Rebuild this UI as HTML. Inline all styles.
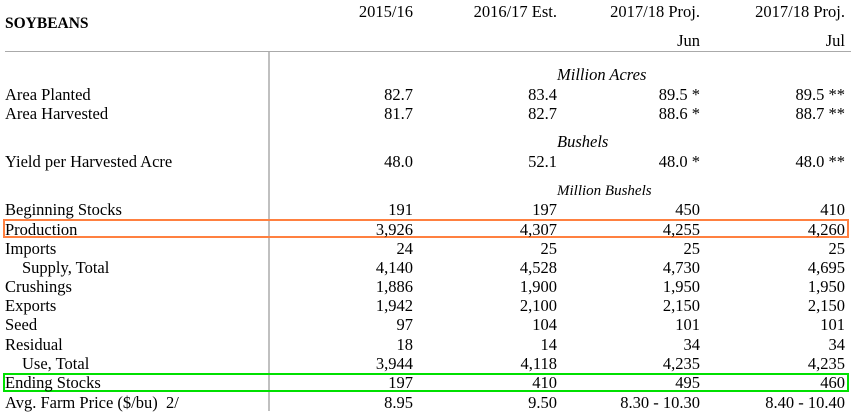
<!DOCTYPE html>
<html><head><meta charset="utf-8"><style>
body{margin:0;width:851px;height:411px;background:#fff;overflow:hidden;position:relative;font-family:"Liberation Serif",serif;font-size:16.5px;color:#000}
.t{position:absolute;line-height:19px;white-space:nowrap;margin-top:2px}
.l{left:5px}.i{left:22px}
.c1,.c2,.c3,.c4{text-align:right;width:200px}
.c1{left:213px}.c2{left:357px}.c3{left:500px}.c4{left:645px}
.it{font-style:italic;left:557px}
</style></head><body>
<div style="position:absolute;left:5px;top:51px;width:846px;height:1px;background:#aaa"></div>
<div style="position:absolute;left:268px;top:52px;width:2px;height:359px;background:#c0c0c0"></div>
<div style="position:absolute;left:3px;top:219px;width:842px;height:15px;border:2px solid #ff8040"></div>
<div style="position:absolute;left:3px;top:373px;width:842px;height:15px;border:2px solid #00e000"></div>

<div class="t l" style="top:12px;font-weight:bold;font-size:15.5px">SOYBEANS</div>
<div class="t c1" style="top:0px">2015/16</div>
<div class="t c2" style="top:0px">2016/17 Est.</div>
<div class="t c3" style="top:0px">2017/18 Proj.</div>
<div class="t c4" style="top:0px">2017/18 Proj.</div>
<div class="t c3" style="top:29px">Jun</div>
<div class="t c4" style="top:29px">Jul</div>

<div class="t it" style="top:63px">Million Acres</div>
<div class="t l" style="top:83px">Area Planted</div><div class="t c1" style="top:83px">82.7</div><div class="t c2" style="top:83px">83.4</div><div class="t c3" style="top:83px">89.5 *</div><div class="t c4" style="top:83px">89.5 **</div>
<div class="t l" style="top:102px">Area Harvested</div><div class="t c1" style="top:102px">81.7</div><div class="t c2" style="top:102px">82.7</div><div class="t c3" style="top:102px">88.6 *</div><div class="t c4" style="top:102px">88.7 **</div>
<div class="t it" style="top:130px">Bushels</div>
<div class="t l" style="top:150px">Yield per Harvested Acre</div><div class="t c1" style="top:150px">48.0</div><div class="t c2" style="top:150px">52.1</div><div class="t c3" style="top:150px">48.0 *</div><div class="t c4" style="top:150px">48.0 **</div>
<div class="t it" style="top:180px;font-size:15px">Million Bushels</div>

<div class="t l" style="top:198px">Beginning Stocks</div><div class="t c1" style="top:198px">191</div><div class="t c2" style="top:198px">197</div><div class="t c3" style="top:198px">450</div><div class="t c4" style="top:198px">410</div>
<div class="t l" style="top:218px">Production</div><div class="t c1" style="top:218px">3,926</div><div class="t c2" style="top:218px">4,307</div><div class="t c3" style="top:218px">4,255</div><div class="t c4" style="top:218px">4,260</div>
<div class="t l" style="top:237px">Imports</div><div class="t c1" style="top:237px">24</div><div class="t c2" style="top:237px">25</div><div class="t c3" style="top:237px">25</div><div class="t c4" style="top:237px">25</div>
<div class="t i" style="top:256px">Supply, Total</div><div class="t c1" style="top:256px">4,140</div><div class="t c2" style="top:256px">4,528</div><div class="t c3" style="top:256px">4,730</div><div class="t c4" style="top:256px">4,695</div>
<div class="t l" style="top:275px">Crushings</div><div class="t c1" style="top:275px">1,886</div><div class="t c2" style="top:275px">1,900</div><div class="t c3" style="top:275px">1,950</div><div class="t c4" style="top:275px">1,950</div>
<div class="t l" style="top:294px">Exports</div><div class="t c1" style="top:294px">1,942</div><div class="t c2" style="top:294px">2,100</div><div class="t c3" style="top:294px">2,150</div><div class="t c4" style="top:294px">2,150</div>
<div class="t l" style="top:313px">Seed</div><div class="t c1" style="top:313px">97</div><div class="t c2" style="top:313px">104</div><div class="t c3" style="top:313px">101</div><div class="t c4" style="top:313px">101</div>
<div class="t l" style="top:333px">Residual</div><div class="t c1" style="top:333px">18</div><div class="t c2" style="top:333px">14</div><div class="t c3" style="top:333px">34</div><div class="t c4" style="top:333px">34</div>
<div class="t i" style="top:352px">Use, Total</div><div class="t c1" style="top:352px">3,944</div><div class="t c2" style="top:352px">4,118</div><div class="t c3" style="top:352px">4,235</div><div class="t c4" style="top:352px">4,235</div>
<div class="t l" style="top:371px">Ending Stocks</div><div class="t c1" style="top:371px">197</div><div class="t c2" style="top:371px">410</div><div class="t c3" style="top:371px">495</div><div class="t c4" style="top:371px">460</div>
<div class="t l" style="top:391px">Avg. Farm Price ($/bu)&nbsp; 2/</div><div class="t c1" style="top:391px">8.95</div><div class="t c2" style="top:391px">9.50</div><div class="t c3" style="top:391px">8.30 - 10.30</div><div class="t c4" style="top:391px">8.40 - 10.40</div>
</body></html>
